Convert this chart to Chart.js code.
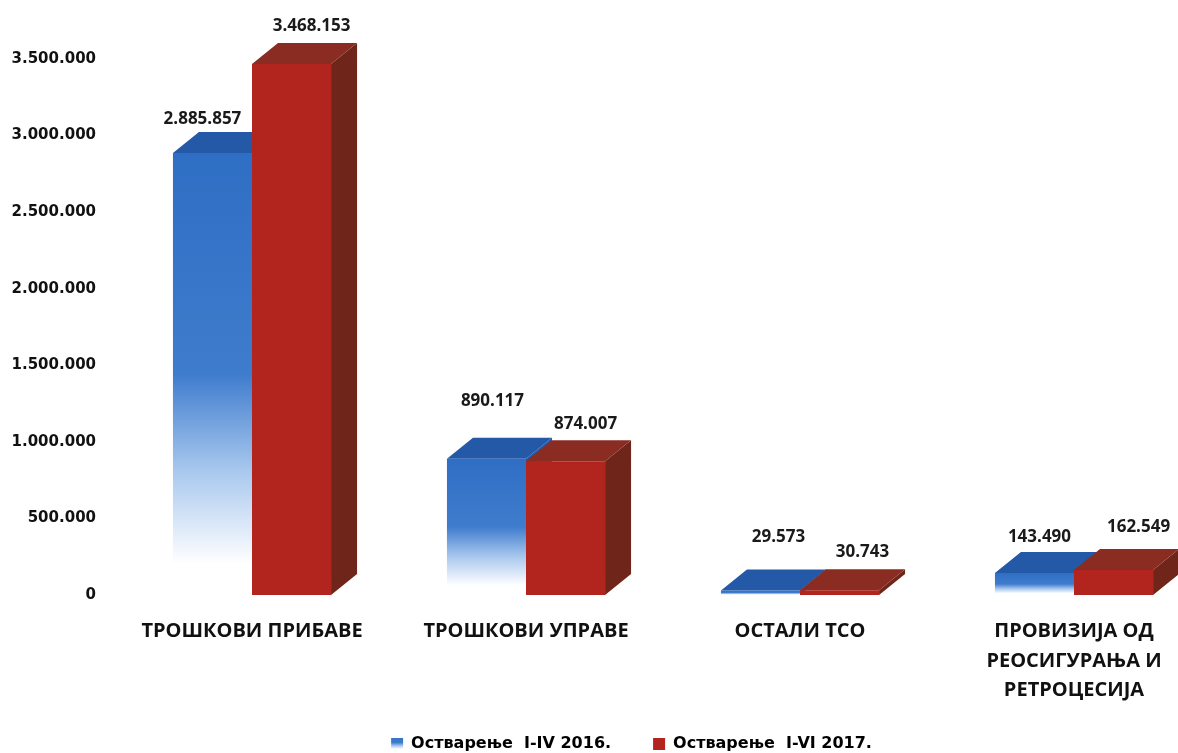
<!DOCTYPE html>
<html>
<head>
<meta charset="utf-8">
<script src="https://cdn.jsdelivr.net/npm/chart.js@4"></script>
<style>
  html, body { margin: 0; padding: 0; background: #fff; overflow: hidden; }
  #wrap { width: 1260px; height: 762px; }
</style>
</head>
<body>
<div id="wrap"><canvas id="chart" width="1260" height="762"></canvas></div>
<script>
const categories = [
  "ТРОШКОВИ ПРИБАВЕ",
  "ТРОШКОВИ УПРАВЕ",
  "ОСТАЛИ ТСО",
  ["ПРОВИЗИЈА ОД", "РЕОСИГУРАЊА И", "РЕТРОЦЕСИЈА"]
];
const seriesNames = ["Остварење  I-IV 2016.", "Остварење  I-VI 2017."];
const values2016 = [2885857, 890117, 29573, 143490];
const values2017 = [3468153, 874007, 30743, 162549];
const tickValues = [0, 500000, 1000000, 1500000, 2000000, 2500000, 3000000, 3500000];

// hand placed label offsets from the top of each bar, the original is irregular
const labelNudge2016 = [[-10, -34], [6, -58], [18, -53], [5, -36]];
const labelNudge2017 = [[20, -38], [20, -37], [23, -38], [25, -43]];

const DEPTH_X = 26;
const DEPTH_Y = 21;

const BLUE = "#2e6ec4";
const BLUE_TOP = "#2459a8";
const RED = "#b2251f";
const RED_TOP = "#8a2c21";
const RED_SIDE = "#6f2519";

function fmt(v) {
  return String(v).replace(/\B(?=(\d{3})+(?!\d))/g, ".");
}

function blueFade(c, top, bottom) {
  const g = c.createLinearGradient(0, top, 0, bottom);
  g.addColorStop(0, BLUE);
  g.addColorStop(0.5, "#3f7ccd");
  g.addColorStop(0.72, "#a9c8ee");
  g.addColorStop(0.93, "#ffffff");
  return g;
}

function face(c, pts, color) {
  c.fillStyle = color;
  c.beginPath();
  pts.forEach(function (p, i) {
    if (i === 0) c.moveTo(p[0], p[1]);
    else c.lineTo(p[0], p[1]);
  });
  c.closePath();
  c.fill();
}

// side and top faces go behind the flat bars
const depthFaces = {
  id: "depthFaces",
  beforeDatasetsDraw(chart) {
    const c = chart.ctx;
    const colors = [[BLUE_TOP, BLUE_TOP], [RED_TOP, RED_SIDE]];
    chart.data.datasets.forEach(function (ds, di) {
      chart.getDatasetMeta(di).data.forEach(function (bar) {
        const l = bar.x - bar.width / 2;
        const r = bar.x + bar.width / 2;
        face(c, [[r, bar.y], [r + DEPTH_X, bar.y - DEPTH_Y], [r + DEPTH_X, bar.base - DEPTH_Y], [r, bar.base]], colors[di][1]);
        face(c, [[l, bar.y], [l + DEPTH_X, bar.y - DEPTH_Y], [r + DEPTH_X, bar.y - DEPTH_Y], [r, bar.y]], colors[di][0]);
      });
    });
  }
};

const valueLabels = {
  id: "valueLabels",
  afterDatasetsDraw(chart) {
    const c = chart.ctx;
    const nudges = [labelNudge2016, labelNudge2017];
    c.save();
    c.font = "bold 17px 'Open Sans'";
    c.fillStyle = "#1a1a1a";
    c.textAlign = "center";
    c.textBaseline = "middle";
    chart.data.datasets.forEach(function (ds, di) {
      chart.getDatasetMeta(di).data.forEach(function (bar, i) {
        c.fillText(fmt(ds.data[i]), bar.x + nudges[di][i][0], bar.y + nudges[di][i][1]);
      });
    });
    c.restore();
  }
};

// the plot runs past the window on the right, so the legend has to be moved back over the page centre
const legendShift = {
  id: "legendShift",
  afterLayout(chart) {
    chart.legend.left += 26;
    chart.legend.right += 26;
  }
};

new Chart(document.getElementById("chart"), {
  type: "bar",
  data: {
    labels: categories,
    datasets: [
      {
        label: seriesNames[0],
        data: values2016,
        backgroundColor: function (ctx) {
          if (ctx.type !== "data") return BLUE;
          const y = ctx.chart.scales.y;
          return blueFade(ctx.chart.ctx, y.getPixelForValue(ctx.raw), y.getPixelForValue(0));
        }
      },
      { label: seriesNames[1], data: values2017, backgroundColor: RED }
    ]
  },
  options: {
    responsive: false,
    animation: false,
    layout: { padding: { top: 59, left: 0, right: 49, bottom: 0 } },
    datasets: { bar: { categoryPercentage: 0.577, barPercentage: 1 } },
    plugins: {
      tooltip: { enabled: false },
      legend: {
        position: "bottom",
        labels: {
          boxWidth: 12,
          boxHeight: 12,
          padding: 3,
          color: "#111",
          font: { family: "'DejaVu Sans'", weight: "bold", size: 16 },
          generateLabels(chart) {
            const c = chart.ctx;
            return [
              { text: seriesNames[0] + "\u00a0\u00a0\u00a0\u00a0\u00a0\u00a0\u00a0", fillStyle: blueFade(c, 735, 750), strokeStyle: "transparent", lineWidth: 0, datasetIndex: 0 },
              { text: seriesNames[1], fillStyle: RED, strokeStyle: "transparent", lineWidth: 0, datasetIndex: 1 }
            ];
          }
        }
      }
    },
    scales: {
      x: {
        afterFit(scale) { scale.height = 138; },
        grid: { display: false, drawTicks: false },
        border: { display: false },
        ticks: {
          color: "#111",
          padding: 22,
          maxRotation: 0,
          autoSkip: false,
          font: { family: "'Open Sans'", weight: "bold", size: 20, lineHeight: 1.47 }
        }
      },
      y: {
        min: 0,
        max: 3500000,
        afterFit(scale) { scale.width = 115; },
        afterBuildTicks(scale) { scale.ticks = tickValues.map(function (v) { return { value: v }; }); },
        grid: { display: false, drawTicks: false },
        border: { display: false },
        ticks: {
          color: "#111",
          padding: 19,
          font: { family: "'DejaVu Sans'", weight: "bold", size: 15 },
          callback: function (v) { return fmt(v); }
        }
      }
    }
  },
  plugins: [depthFaces, valueLabels, legendShift]
});
</script>
</body>
</html>
